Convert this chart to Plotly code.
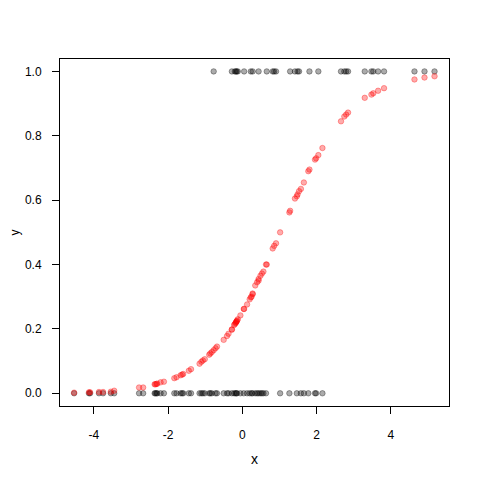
import plotly.graph_objects as go

# observed points (y = 0)
x0 = [-4.53, -4.13, -4.10, -3.86, -3.75, -3.54, -3.45, -2.78, -2.67, -2.36,
      -2.34, -2.31, -2.29, -2.20, -2.11, -1.83, -1.77, -1.66, -1.62, -1.59,
      -1.44, -1.38, -1.15, -1.10, -1.06, -1.01, -0.89, -0.86, -0.82, -0.72,
      -0.68, -0.50, -0.41, -0.37, -0.28, -0.22, -0.18, -0.16, -0.14, -0.05,
      0.04, 0.13, 0.20, 0.25, 0.28, 0.35, 0.40, 0.44, 0.49, 0.53,
      0.57, 0.64, 1.02, 1.27, 1.47, 1.58, 1.66, 1.78, 1.96, 1.99, 2.16]
p0 = [0.002, 0.003, 0.003, 0.004, 0.004, 0.005, 0.008, 0.018, 0.018, 0.028,
      0.028, 0.029, 0.030, 0.034, 0.036, 0.047, 0.050, 0.056, 0.058, 0.060,
      0.070, 0.075, 0.092, 0.098, 0.102, 0.106, 0.120, 0.124, 0.128, 0.140,
      0.145, 0.166, 0.178, 0.185, 0.198, 0.212, 0.218, 0.222, 0.226, 0.242,
      0.262, 0.276, 0.292, 0.300, 0.308, 0.335, 0.345, 0.355, 0.365, 0.372,
      0.378, 0.400, 0.500, 0.562, 0.612, 0.635, 0.655, 0.690, 0.726, 0.730, 0.762]

# observed points (y = 1)
x1 = [-0.77, -0.28, -0.20, -0.17, -0.15, -0.12, 0.05, 0.23, 0.28, 0.44,
      0.66, 0.82, 0.86, 0.91, 1.29, 1.42, 1.49, 1.53, 1.81, 2.05,
      2.66, 2.75, 2.80, 2.85, 3.30, 3.48, 3.53, 3.66, 3.82, 4.64,
      4.91, 5.18]
p1 = [0.134, 0.198, 0.215, 0.220, 0.224, 0.230, 0.262, 0.298, 0.310, 0.350,
      0.400, 0.450, 0.458, 0.466, 0.567, 0.605, 0.618, 0.628, 0.695, 0.740,
      0.845, 0.860, 0.866, 0.872, 0.918, 0.928, 0.932, 0.940, 0.948, 0.975,
      0.981, 0.985]

x_all = x0 + x1
y_obs = [0] * len(x0) + [1] * len(x1)
p_fit = p0 + p1

x_ticks = [-4, -2, 0, 2, 4]
y_ticks = [0.0, 0.2, 0.4, 0.6, 0.8, 1.0]

fig = go.Figure()
fig.add_trace(go.Scatter(
    x=x_all, y=y_obs, mode="markers",
    marker=dict(size=5.5, color="rgba(0,0,0,0.33)",
                line=dict(color="rgba(0,0,0,0.33)", width=1))))
fig.add_trace(go.Scatter(
    x=x_all, y=p_fit, mode="markers",
    marker=dict(size=5.5, color="rgba(255,0,0,0.33)",
                line=dict(color="rgba(255,0,0,0.33)", width=1))))

axis_style = dict(showline=True, mirror=True, linecolor="black", linewidth=1,
                  ticks="outside", ticklen=7, tickcolor="black", tickwidth=1,
                  showgrid=False, zeroline=False, automargin=False)

# page body adds an 8px offset, so margins are shifted to compensate
fig.update_layout(
    width=480, height=480,
    margin=dict(l=52, r=39, t=51, b=82),
    paper_bgcolor="white", plot_bgcolor="white",
    showlegend=False,
    font=dict(family="Liberation Sans, Arial", size=12, color="black"),
    xaxis=dict(range=[-4.91, 5.57], tickvals=x_ticks,
               ticktext=[str(t) for t in x_ticks],
               title=dict(text="x", standoff=12), ticklabelstandoff=11,
               **axis_style),
    yaxis=dict(range=[-0.0395, 1.0386], tickvals=y_ticks,
               ticktext=[f"{t:.1f}" for t in y_ticks],
               ticklabelstandoff=8, **axis_style),
)

# y axis title sits closer to the page edge than plotly's title allows
fig.add_annotation(text="y", textangle=-90, showarrow=False,
                   xref="paper", yref="paper", x=-0.118, y=0.5,
                   xanchor="center", yanchor="middle",
                   font=dict(size=12, color="black"))

fig.write_html("out.html")
